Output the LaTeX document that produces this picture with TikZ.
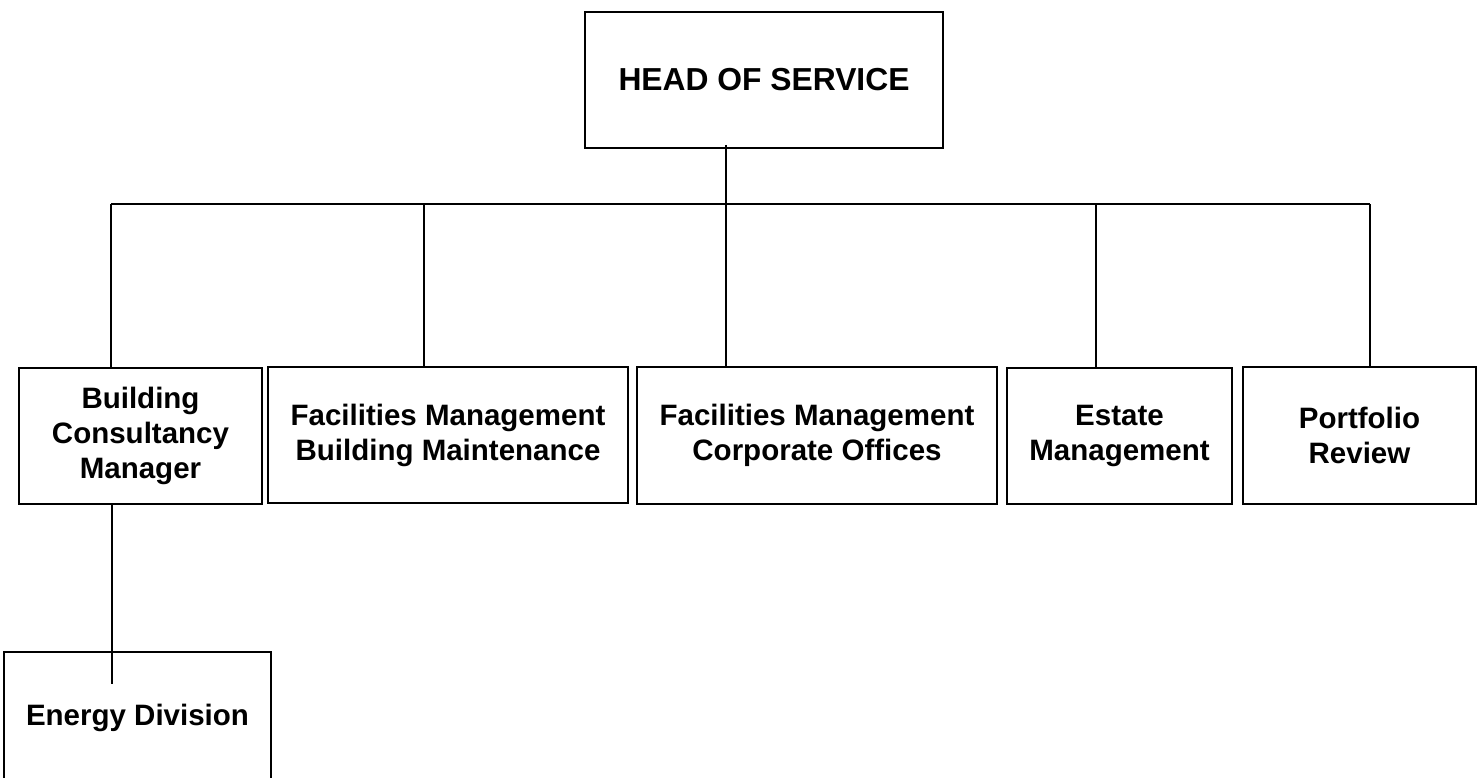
\documentclass[tikz,border=0pt]{standalone}
\usepackage{fontspec}
\setmainfont{Liberation Sans}
\begin{document}
\begin{tikzpicture}[x=1pt,y=-1pt,
  box/.style={draw=black,line width=2pt,rectangle,inner sep=0pt,align=center,
    font=\bfseries\fontsize{29.5}{35}\selectfont},
  link/.style={draw=black,line width=2pt}]
\useasboundingbox (0,0) rectangle (1482,778);
\fill[white] (0,0) rectangle (1482,778);
% boxes
\node[box,minimum width=358pt,minimum height=136pt,font=\bfseries\fontsize{31.8}{38}\selectfont] (head) at (764,80) {HEAD OF SERVICE};
\node[box,minimum width=243pt,minimum height=136pt] (b1) at (140.5,436) {Building\\Consultancy\\Manager};
\node[box,minimum width=360pt,minimum height=136pt] (b2) at (448,435) {Facilities Management\\Building Maintenance};
\node[box,minimum width=360pt,minimum height=137pt] (b3) at (817,435.5) {Facilities Management\\Corporate Offices};
\node[box,minimum width=225pt,minimum height=136pt] (b4) at (1119.5,436) {Estate\\Management};
\node[box,minimum width=233pt,minimum height=137pt] (b5) at (1359.5,435.5) {Portfolio\\Review};
\node[box,minimum width=267pt,minimum height=132pt] (en) at (137.5,718) {Energy Division};
% junction coordinates
\coordinate (hs) at (726,145);
\coordinate (j1) at (111,204);
\coordinate (j2) at (424,204);
\coordinate (j4) at (1096,204);
\coordinate (j5) at (1370,204);
\coordinate (ee) at (112,684);
% connectors
\draw[link] (hs) -- (hs |- b3.north);
\draw[link] (j1) -- (j5);
\draw[link] (j1) -- (j1 |- b1.north);
\draw[link] (j2) -- (j2 |- b2.north);
\draw[link] (j4) -- (j4 |- b4.north);
\draw[link] (j5) -- (j5 |- b5.north);
\draw[link] (ee |- b1.south) -- (ee);
\end{tikzpicture}
\end{document}
